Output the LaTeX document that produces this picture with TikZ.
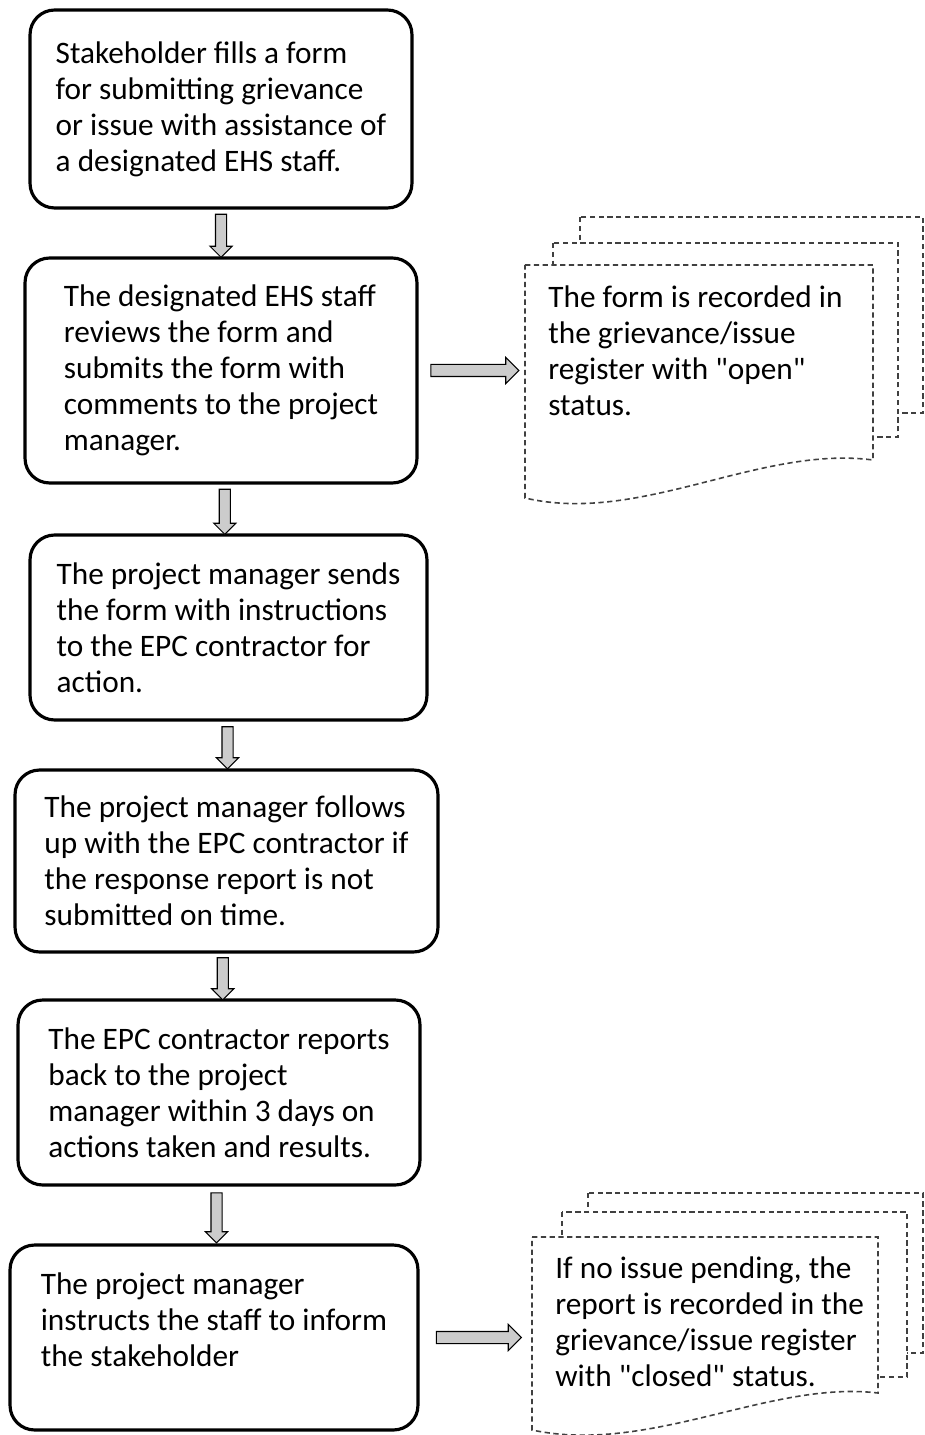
\documentclass[tikz,border=0pt]{standalone}
\usepackage{fontspec}
\setmainfont{Carlito}
\usepackage{tikz}
\usetikzlibrary{shapes.arrows, calc, positioning}
\newcommand{\flowfont}{\fontsize{17.8}{20.5}\selectfont}

\begin{document}
\begin{tikzpicture}[x=0.02cm, y=-0.02cm,
    stepbox/.style={draw, line width=1.8pt, rounded corners=14pt, align=flush left,
      font=\flowfont},
    sheet/.style={draw=black!75, line width=0.9pt, densely dashed, fill=white},
    doctext/.style={font=\flowfont, align=flush left, anchor=north west, inner sep=0pt},
    downarr/.style={single arrow, draw, line width=0.6pt, fill=black!20,
      shape border rotate=270, inner xsep=0.1cm, inner ysep=0pt,
      single arrow head extend=0.11cm},
    sidearr/.style={single arrow, draw, line width=0.6pt, fill=black!20,
      inner xsep=0pt, inner ysep=0.11cm, single arrow head extend=0.14cm}]
  \useasboundingbox (0,0) rectangle (925,1435);

  \node[stepbox, minimum width=7.64cm, minimum height=3.96cm]
    (s1) at (221,109) {Stakeholder fills a form\\ for submitting grievance\\
    or issue with assistance of\\ a designated EHS staff.};
  \node[stepbox, minimum width=7.84cm, minimum height=4.5cm]
    (s2) at (221,370.5) {The designated EHS staff\\ reviews the form and\\
    submits the form with\\ comments to the project\\ manager.};
  \node[stepbox, minimum width=7.94cm, minimum height=3.7cm]
    (s3) at (228.5,627.5) {The project manager sends\\ the form with instructions\\
    to the EPC contractor for\\ action.};
  \node[stepbox, minimum width=8.46cm, minimum height=3.64cm]
    (s4) at (226.5,861) {The project manager follows\\ up with the EPC contractor if\\
    the response report is not\\ submitted on time.};
  \node[stepbox, minimum width=8.04cm, minimum height=3.7cm]
    (s5) at (219,1092.5) {The EPC contractor reports\\ back to the project\\
    manager within 3 days on\\ actions taken and results.};
  \node[stepbox, minimum width=8.16cm, minimum height=3.7cm]
    (s6) at (214,1337.5) {The project manager\\ instructs the staff to inform\\
    the stakeholder\\ \mbox{}};

  % register sheets
  \coordinate (d1) at (525,265);
  \draw[sheet] (580,217) rectangle (923,413);
  \draw[sheet] (553,243) rectangle (898,437);
  \draw[sheet] (d1) -- (873,265) -- (873,460)
    .. controls (760,445) and (640,525) .. (525,498) -- cycle;
  \node[doctext] (r1) at (548,285) {The form is recorded in\\ the grievance/issue\\
    register with \textquotedbl open\textquotedbl\\ status.};

  \coordinate (d2) at (532,1237);
  \draw[sheet] (588,1193) rectangle (923,1353);
  \draw[sheet] (562,1212) rectangle (907,1377);
  \draw[sheet] (d2) -- (878,1237) -- (878,1393)
    .. controls (770,1380) and (650,1455) .. (532,1430) -- cycle;
  \node[doctext] (r2) at (555,1256) {If no issue pending, the\\ report is recorded in the\\
    grievance/issue register\\ with \textquotedbl closed\textquotedbl\ status.};

  \node[downarr, minimum height=0.86cm] (a12) at ($(s1.south)!0.5!(s2.north)$) {};
  \node[downarr, minimum height=0.9cm] (a23) at ($(s2.south)!0.5!(s3.north)$) {};
  \node[downarr, minimum height=0.84cm] (a34) at ($(s3.south)!0.5!(s4.north)$) {};
  \node[downarr, minimum height=0.84cm] (a45) at ($(s4.south)!0.5!(s5.north)$) {};
  \node[downarr, minimum height=1.0cm] (a56) at ($(s5.south)!0.5!(s6.north)$) {};
  \node[sidearr, minimum height=1.76cm] (a2r) at ($(s2.east)!0.5!(d1 |- s2.east)$) {};
  \node[sidearr, minimum height=1.7cm] (a6r) at ($(s6.east)!0.5!(d2 |- s6.east)$) {};
\end{tikzpicture}
\end{document}
